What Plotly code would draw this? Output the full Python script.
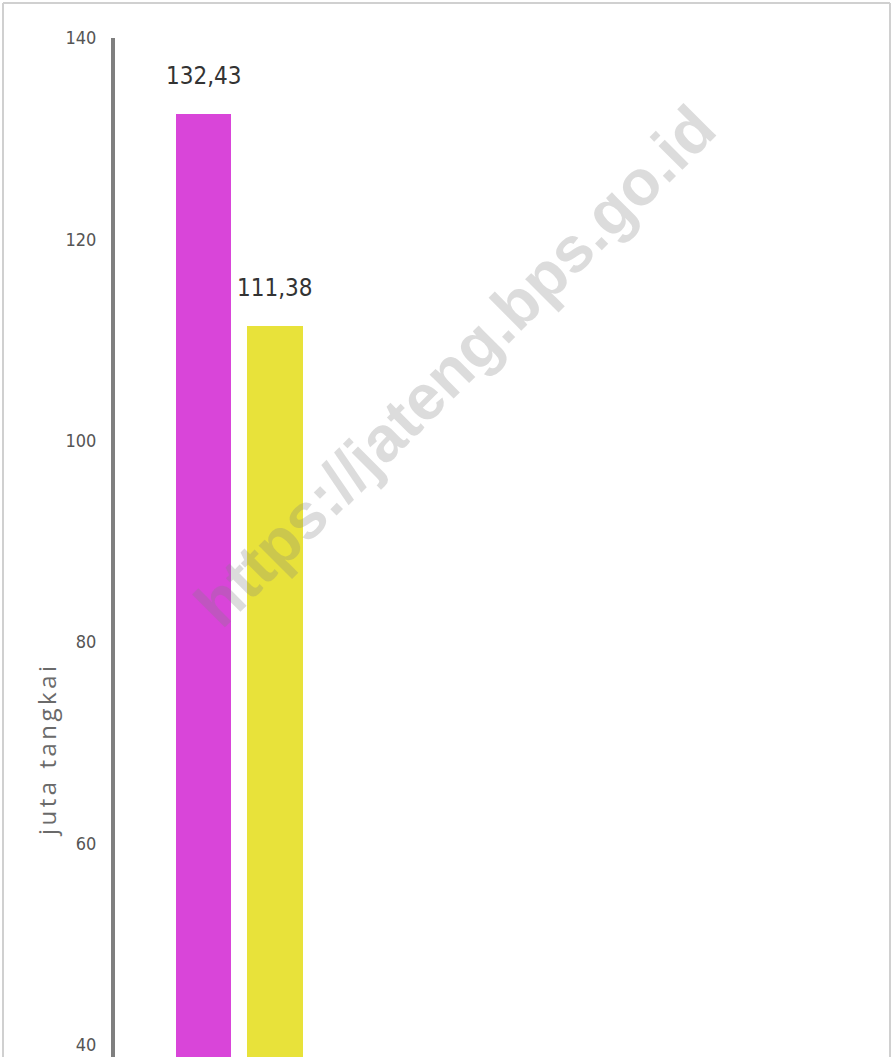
import plotly.graph_objects as go

categories = ["A", "B"]
values = [132.43, 111.38]
labels = ["132,43", "111,38"]
colors = ["#d945d9", "#e8e23a"]
y_ticks = [40, 60, 80, 100, 120, 140]
y_title = "juta tangkai"
watermark = "https://jateng.bps.go.id"

W, H = 891, 1057
ML, MR, MT, MB = 115, 4, 38, 0
PW, PH = W - ML - MR, H - MT - MB

def px_x(px):
    return (px - ML) / PW

def px_y(py):
    return (H - MB - py) / PH

narrow = "Liberation Sans Narrow, DejaVu Sans Condensed, Roboto Condensed, Arial Narrow, sans-serif"

# x positions: category spacing 71.5px, first bar centre at 203.5px
x0 = -(203.5 - ML) / 71.5
x1 = x0 + PW / 71.5
xpos = list(range(len(categories)))

fig = go.Figure()
fig.add_trace(go.Bar(
    x=xpos, y=values, width=0.77,
    marker=dict(color=colors, line=dict(width=0)),
    showlegend=False, hoverinfo="skip",
))

for xi, v, lab in zip(xpos, values, labels):
    fig.add_annotation(
        x=xi, y=v, text=lab, showarrow=False, xanchor="center", yanchor="bottom",
        yshift=22, font=dict(family=narrow, size=24, color="#333333"),
    )

fig.update_layout(
    width=W, height=H,
    margin=dict(l=ML, r=MR, t=MT, b=MB, pad=0),
    paper_bgcolor="white", plot_bgcolor="white",
    bargap=0,
    xaxis=dict(range=[x0, x1], showticklabels=False, showgrid=False,
               zeroline=False, showline=False, fixedrange=True),
    yaxis=dict(range=[38.8, 140], tickvals=y_ticks, ticktext=[str(t) for t in y_ticks],
               showgrid=False, zeroline=False, showline=True, linecolor="#7f7f7f",
               linewidth=4, ticks="", ticklabelstandoff=11,
               tickfont=dict(family=narrow, size=18, color="#555555")),
    font=dict(family="Open Sans, sans-serif"),
)

fig.add_annotation(
    xref="paper", yref="paper", x=px_x(46), y=px_y(750),
    text='<span style="letter-spacing:3.5px">' + y_title + '</span>', textangle=-90, showarrow=False,
    font=dict(family="Open Sans, sans-serif", size=24, color="#6a6a6a"),
    xanchor="center", yanchor="middle",
)

fig.add_annotation(
    xref="paper", yref="paper", x=px_x(455), y=px_y(366),
    text="<b>" + watermark + "</b>", textangle=-45, showarrow=False,
    font=dict(family="Liberation Sans, Arial, sans-serif", size=64, color="rgba(130,130,130,0.28)"),
    xanchor="center", yanchor="middle",
)

border = "#d0d0d0"
fig.add_shape(type="line", xref="paper", yref="paper",
              x0=px_x(3), x1=px_x(890), y0=px_y(3), y1=px_y(3),
              line=dict(color=border, width=2))
fig.add_shape(type="line", xref="paper", yref="paper",
              x0=px_x(3), x1=px_x(3), y0=px_y(3), y1=px_y(1057),
              line=dict(color=border, width=2))
fig.add_shape(type="line", xref="paper", yref="paper",
              x0=px_x(890), x1=px_x(890), y0=px_y(3), y1=px_y(1057),
              line=dict(color=border, width=2))

fig.write_html("out.html", config={"displayModeBar": False},
               post_script="document.body.style.margin='0';document.body.style.overflow='hidden';")
